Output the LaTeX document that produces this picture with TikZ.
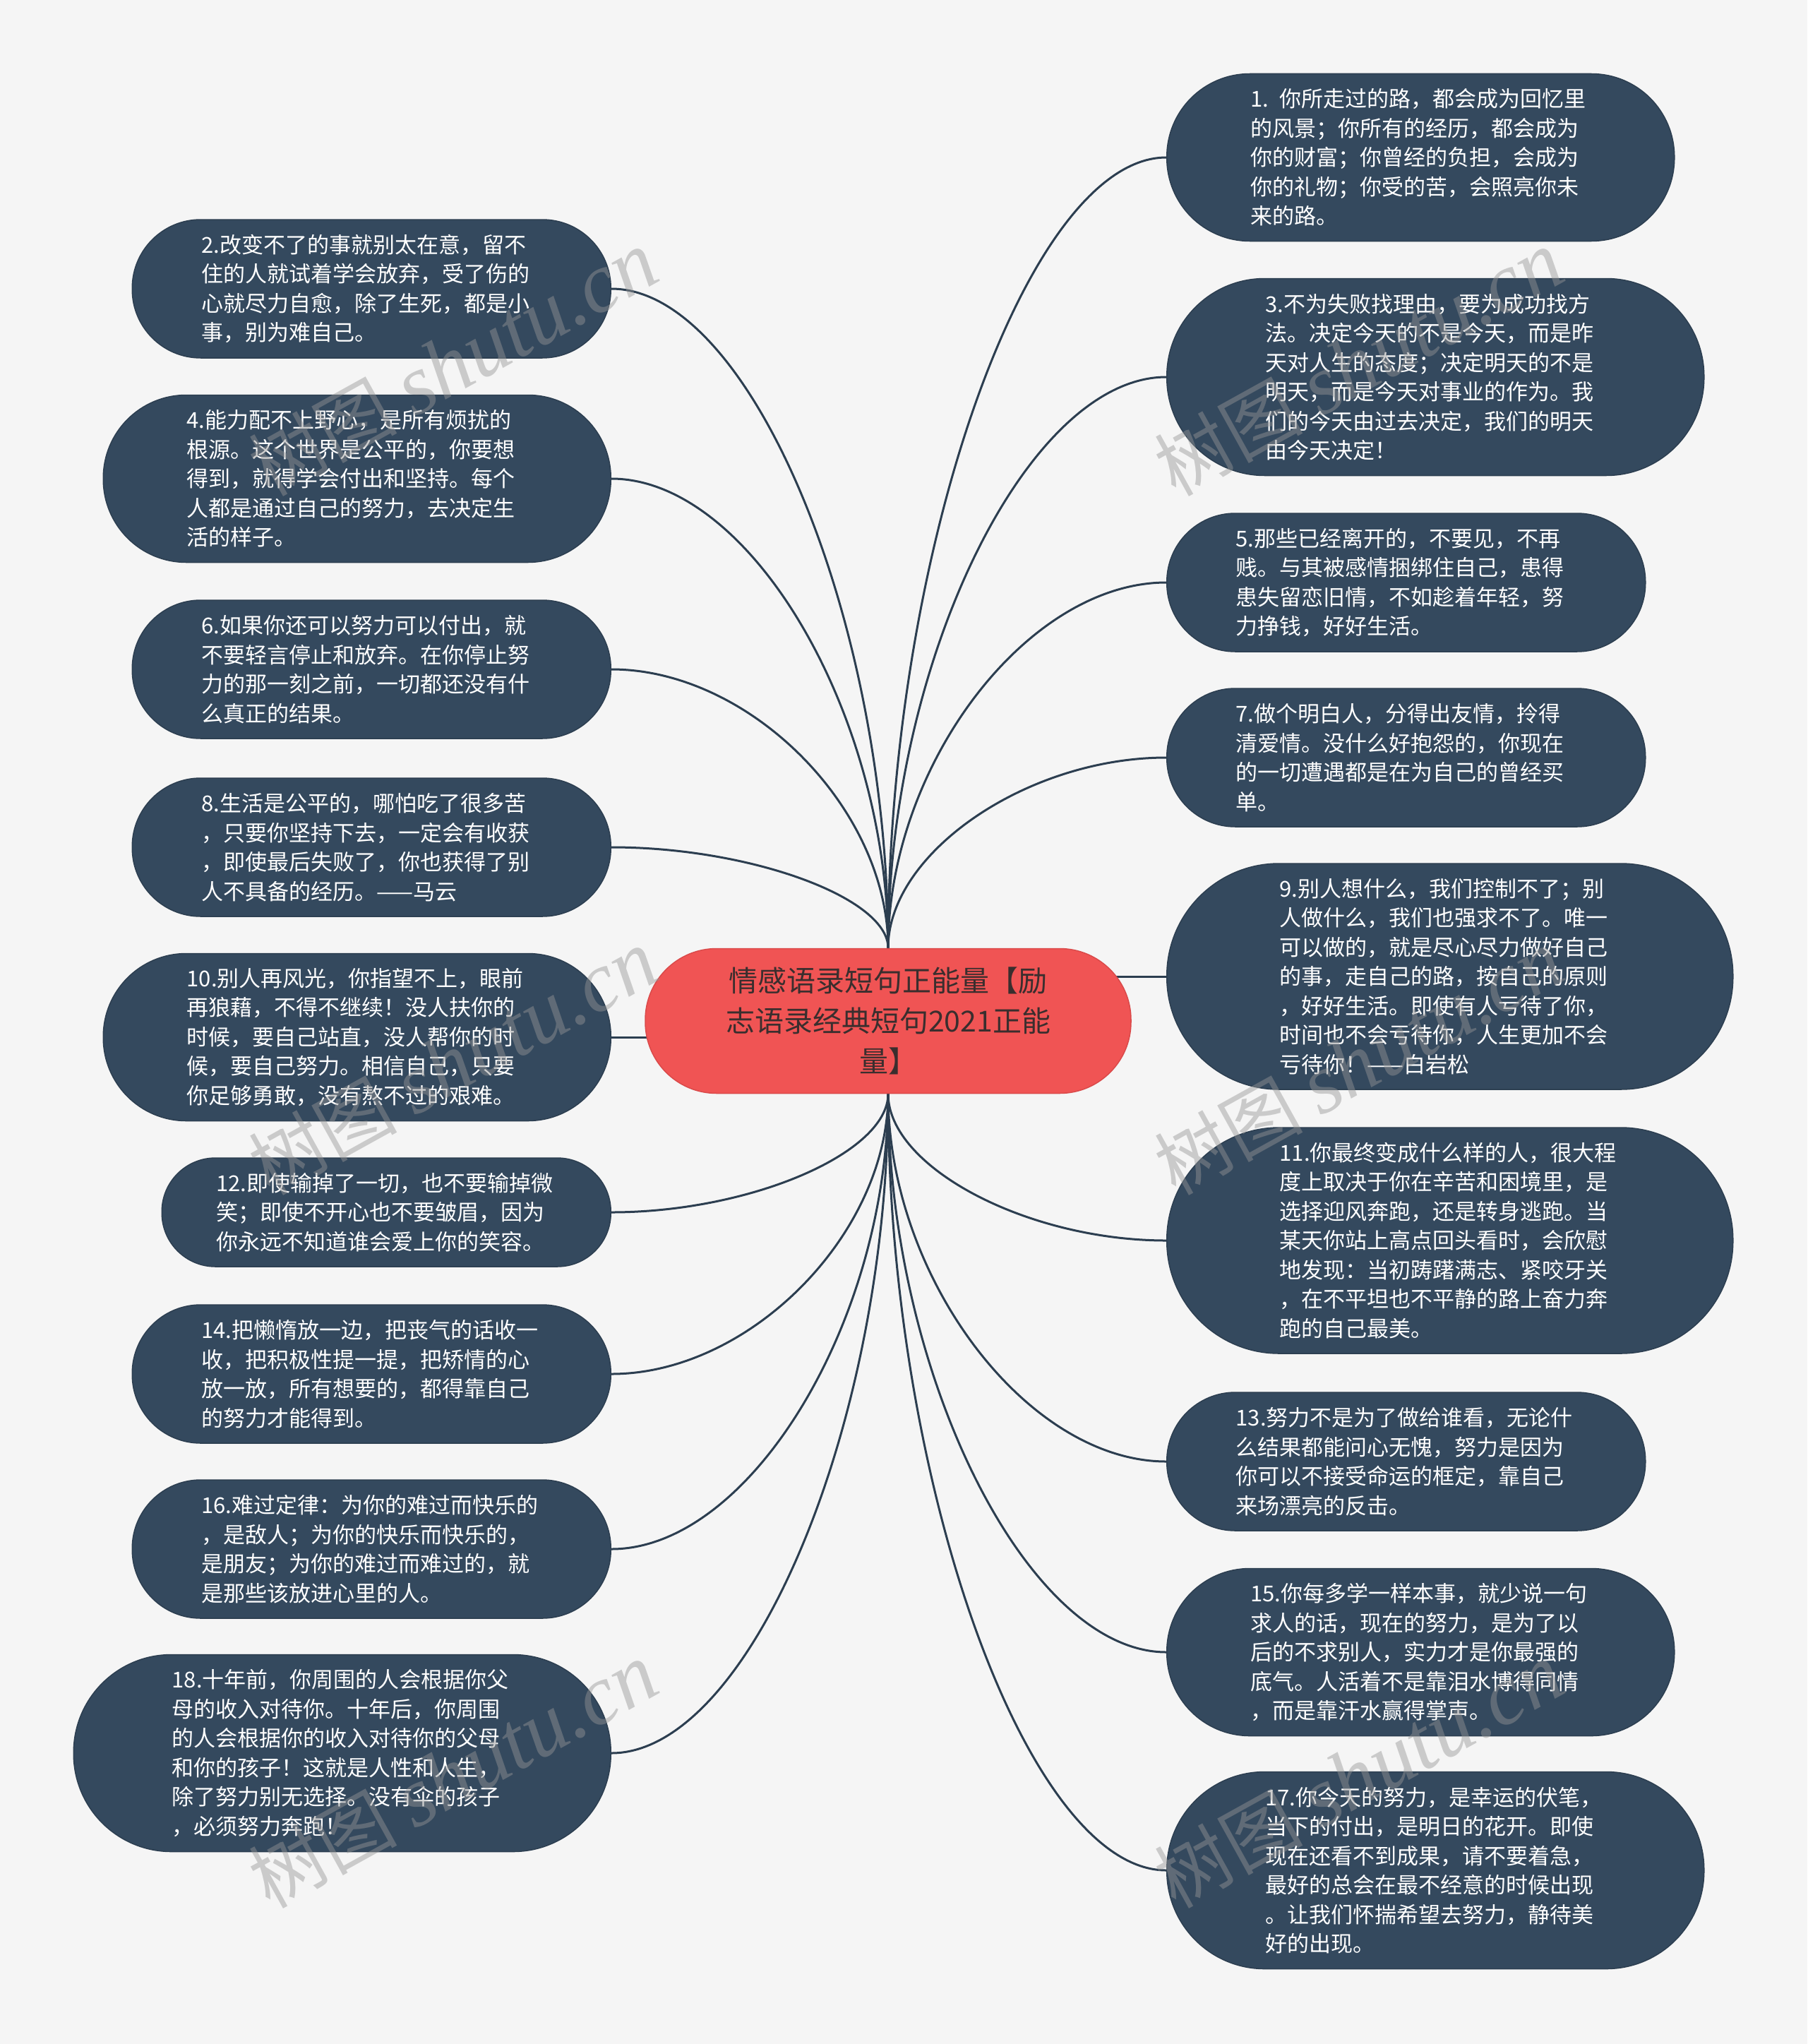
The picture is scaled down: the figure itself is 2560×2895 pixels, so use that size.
\documentclass[tikz,border=0pt]{standalone}
\usepackage{fontspec}
\setmainfont{Noto Sans CJK SC}
\newfontfamily\wmlatin{Liberation Serif}
\usetikzlibrary{calc}
\definecolor{bgc}{HTML}{F5F5F5}
\definecolor{leaffill}{HTML}{34495E}
\definecolor{leafline}{HTML}{2C3E50}
\definecolor{rootfill}{HTML}{F05454}
\definecolor{rootline}{HTML}{DA4A4A}
\definecolor{roottext}{HTML}{3A2E2E}
\definecolor{linkc}{HTML}{2C3E50}
\definecolor{wmc}{HTML}{969696}
\pgfdeclarelayer{bglayer}
\pgfdeclarelayer{edgelayer}
\pgfdeclarelayer{fglayer}
\pgfsetlayers{bglayer,edgelayer,main,fglayer}
\tikzset{
  leaf/.style={rectangle, fill=leaffill, draw=leafline, line width=1.5pt,
    text=white, font=\fontsize{31pt}{41.5pt}\selectfont,
    text width=482pt, align=left, inner sep=0pt,
    minimum height={#1*1pt}, minimum width={(482+#1)*1pt},
    rounded corners={(#1/2-1)*1pt}},
  root/.style={rectangle, fill=rootfill, draw=rootline, line width=1.5pt,
    text=roottext, font=\fontsize{41pt}{57pt}\selectfont,
    text width=483pt, align=center, inner sep=0pt,
    minimum width=688pt, minimum height=205pt, rounded corners=101pt},
  conn/.style={draw=linkc, line width=3pt},
  wm/.style={text=wmc, text opacity=0.45, font=\fontsize{105pt}{105pt}\selectfont,
    rotate=29, inner sep=0pt}
}
\begin{document}
\begin{tikzpicture}[x=1pt, y=-1pt]
\begin{pgfonlayer}{bglayer}
\fill[bgc] (0,0) rectangle (2560,2895);
\end{pgfonlayer}
\useasboundingbox (0,0) rectangle (2560,2895);

% root
\node[root] (c) at (1258,1446) {情感语录短句正能量【励\\志语录经典短句2021正能\\量】};

% right column
\node[leaf=237, anchor=west] (n1) at (1652,223) {1. 你所走过的路，都会成为回忆里\\的风景；你所有的经历，都会成为\\你的财富；你曾经的负担，会成为\\你的礼物；你受的苦，会照亮你未\\来的路。};
\node[leaf=279, anchor=west] (n3) at (1652,534) {3.不为失败找理由，要为成功找方\\法。决定今天的不是今天，而是昨\\天对人生的态度；决定明天的不是\\明天，而是今天对事业的作为。我\\们的今天由过去决定，我们的明天\\由今天决定！};
\node[leaf=196, anchor=west] (n5) at (1652,825) {5.那些已经离开的，不要见，不再\\贱。与其被感情捆绑住自己，患得\\患失留恋旧情，不如趁着年轻，努\\力挣钱，好好生活。};
\node[leaf=196, anchor=west] (n7) at (1652,1073) {7.做个明白人，分得出友情，拎得\\清爱情。没什么好抱怨的，你现在\\的一切遭遇都是在为自己的曾经买\\单。};
\node[leaf=320, anchor=west] (n9) at (1652,1383) {9.别人想什么，我们控制不了；别\\人做什么，我们也强求不了。唯一\\可以做的，就是尽心尽力做好自己\\的事，走自己的路，按自己的原则\\，好好生活。即使有人亏待了你，\\时间也不会亏待你，人生更加不会\\亏待你！——白岩松};
\node[leaf=320, anchor=west] (n11) at (1652,1757) {11.你最终变成什么样的人，很大程\\度上取决于你在辛苦和困境里，是\\选择迎风奔跑，还是转身逃跑。当\\某天你站上高点回头看时，会欣慰\\地发现：当初踌躇满志、紧咬牙关\\，在不平坦也不平静的路上奋力奔\\跑的自己最美。};
\node[leaf=196, anchor=west] (n13) at (1652,2070) {13.努力不是为了做给谁看，无论什\\么结果都能问心无愧，努力是因为\\你可以不接受命运的框定，靠自己\\来场漂亮的反击。};
\node[leaf=237, anchor=west] (n15) at (1652,2340) {15.你每多学一样本事，就少说一句\\求人的话，现在的努力，是为了以\\后的不求别人，实力才是你最强的\\底气。人活着不是靠泪水博得同情\\，而是靠汗水赢得掌声。};
\node[leaf=279, anchor=west] (n17) at (1652,2649) {17.你今天的努力，是幸运的伏笔，\\当下的付出，是明日的花开。即使\\现在还看不到成果，请不要着急，\\最好的总会在最不经意的时候出现\\。让我们怀揣希望去努力，静待美\\好的出现。};

% left column
\node[leaf=196, anchor=east] (n2) at (866,409) {2.改变不了的事就别太在意，留不\\住的人就试着学会放弃，受了伤的\\心就尽力自愈，除了生死，都是小\\事，别为难自己。};
\node[leaf=237, anchor=east] (n4) at (866,678) {4.能力配不上野心，是所有烦扰的\\根源。这个世界是公平的，你要想\\得到，就得学会付出和坚持。每个\\人都是通过自己的努力，去决定生\\活的样子。};
\node[leaf=196, anchor=east] (n6) at (866,948) {6.如果你还可以努力可以付出，就\\不要轻言停止和放弃。在你停止努\\力的那一刻之前，一切都还没有什\\么真正的结果。};
\node[leaf=196, anchor=east] (n8) at (866,1200) {8.生活是公平的，哪怕吃了很多苦\\，只要你坚持下去，一定会有收获\\，即使最后失败了，你也获得了别\\人不具备的经历。——马云};
\node[leaf=237, anchor=east] (n10) at (866,1469) {10.别人再风光，你指望不上，眼前\\再狼藉，不得不继续！没人扶你的\\时候，要自己站直，没人帮你的时\\候，要自己努力。相信自己，只要\\你足够勇敢，没有熬不过的艰难。};
\node[leaf=154, anchor=east] (n12) at (866,1717) {12.即使输掉了一切，也不要输掉微\\笑；即使不开心也不要皱眉，因为\\你永远不知道谁会爱上你的笑容。};
\node[leaf=196, anchor=east] (n14) at (866,1946) {14.把懒惰放一边，把丧气的话收一\\收，把积极性提一提，把矫情的心\\放一放，所有想要的，都得靠自己\\的努力才能得到。};
\node[leaf=196, anchor=east] (n16) at (866,2194) {16.难过定律：为你的难过而快乐的\\，是敌人；为你的快乐而快乐的，\\是朋友；为你的难过而难过的，就\\是那些该放进心里的人。};
\node[leaf=279, anchor=east] (n18) at (866,2483) {18.十年前，你周围的人会根据你父\\母的收入对待你。十年后，你周围\\的人会根据你的收入对待你的父母\\和你的孩子！这就是人性和人生，\\除了努力别无选择。没有伞的孩子\\，必须努力奔跑！};

% connectors
\begin{pgfonlayer}{edgelayer}
\foreach \n in {n1,n3,n5,n7} {
  \coordinate (k) at (c.north |- \n.west);
  \draw[conn] (c.north) .. controls ($(c.north)!0.5!(k)$) and ($(\n.west)!0.5!(k)$) .. (\n.west);
}
\foreach \n in {n2,n4,n6,n8} {
  \coordinate (k) at (c.north |- \n.east);
  \draw[conn] (c.north) .. controls ($(c.north)!0.5!(k)$) and ($(\n.east)!0.5!(k)$) .. (\n.east);
}
\foreach \n in {n11,n13,n15,n17} {
  \coordinate (k) at (c.south |- \n.west);
  \draw[conn] (c.south) .. controls ($(c.south)!0.5!(k)$) and ($(\n.west)!0.5!(k)$) .. (\n.west);
}
\foreach \n in {n12,n14,n16,n18} {
  \coordinate (k) at (c.south |- \n.east);
  \draw[conn] (c.south) .. controls ($(c.south)!0.5!(k)$) and ($(\n.east)!0.5!(k)$) .. (\n.east);
}
\draw[conn] (c.center |- n9.west) -- (n9.west);
\draw[conn] (c.center |- n10.east) -- (n10.east);
\end{pgfonlayer}

% watermarks
\begin{pgfonlayer}{fglayer}
\node[wm] (w1) at (642,515) {树图 {\wmlatin\itshape\fontsize{120pt}{120pt}\selectfont shutu.cn}};
\node[wm] (w2) at (1925,515) {树图 {\wmlatin\itshape\fontsize{120pt}{120pt}\selectfont shutu.cn}};
\node[wm] (w3) at (642,1505) {树图 {\wmlatin\itshape\fontsize{120pt}{120pt}\selectfont shutu.cn}};
\node[wm] (w4) at (1925,1505) {树图 {\wmlatin\itshape\fontsize{120pt}{120pt}\selectfont shutu.cn}};
\node[wm] (w5) at (642,2515) {树图 {\wmlatin\itshape\fontsize{120pt}{120pt}\selectfont shutu.cn}};
\node[wm] (w6) at (1925,2515) {树图 {\wmlatin\itshape\fontsize{120pt}{120pt}\selectfont shutu.cn}};
\end{pgfonlayer}
\end{tikzpicture}
\end{document}
